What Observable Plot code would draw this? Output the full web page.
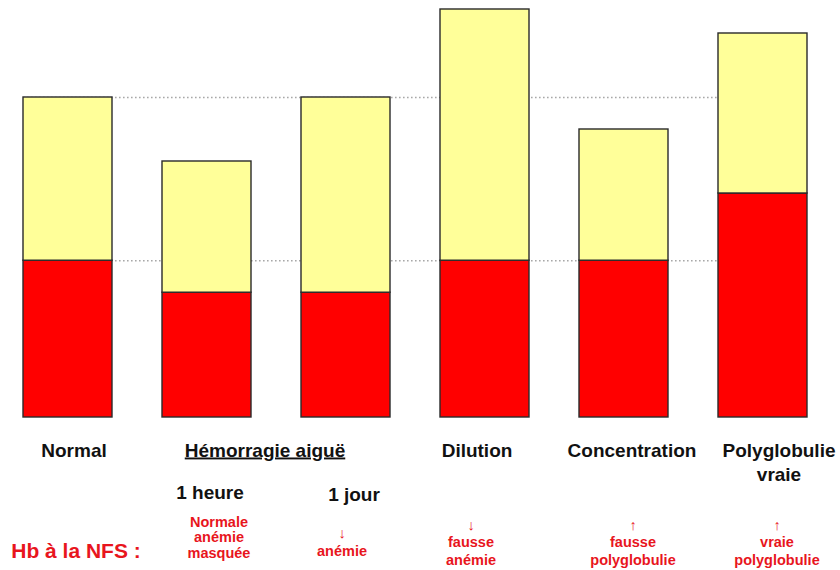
<!DOCTYPE html>
<html><head><meta charset="utf-8">
<script src="https://cdn.jsdelivr.net/npm/d3@7"></script>
<script src="https://cdn.jsdelivr.net/npm/@observablehq/plot@0.6"></script>
<style>body{margin:0;background:#fff;}</style>
</head><body><div id="chart"></div>
<script>
// Data
const categories = ["Normal", "1 heure", "1 jour", "Dilution", "Concentration", "Polyglobulie vraie"];
const globules = [49, 39, 39, 49, 49, 70];      // red cell volume
const plasma = [51, 41, 61, 78.5, 41, 50];       // plasma volume
const referenceLevels = [100, 49];
const groupLabels = ["Normal", "Hémorragie aiguë", "Dilution", "Concentration", "Polyglobulie\nvraie"];
const groupAt = ["Normal", "1 heure", "Dilution", "Concentration", "Polyglobulie vraie"];
const delayLabels = ["1 heure", "1 jour"];
const delayAt = ["1 heure", "1 jour"];
const hbTitle = "Hb à la NFS :";
const hbLabels = ["Normale\nanémie\nmasquée", "↓\nanémie", "↓\nfausse\nanémie", "↑\nfausse\npolyglobulie", "↑\nvraie\npolyglobulie"];
const hbAt = ["1 heure", "1 jour", "Dilution", "Concentration", "Polyglobulie vraie"];

const rows = [];
categories.forEach((c, i) => {
  rows.push({cat: c, part: "globules", v: globules[i]});
  rows.push({cat: c, part: "plasma", v: plasma[i]});
});

const font = "'Liberation Sans', Arial, sans-serif";
const red = "#e8151d";

// layout offsets (style only)
const groupDx = [6, 58, -8, 8, 16];
const groupDy = [39, 39, 39, 39, 63];
const delayDx = [3, 8], delayDy = [81, 83];
const hbDx = [12, -4, -14, 9, 14];
const hbDy = [140, 138, 147, 147, 147];
const hbLH = [1.05, 1.2, 1.2, 1.2, 1.2];

const textMarks = [];
groupLabels.forEach((t, i) => textMarks.push(Plot.text([t], {
  x: () => groupAt[i], text: d => d, frameAnchor: "bottom", lineAnchor: "bottom",
  dy: groupDy[i], dx: groupDx[i], fontSize: 19, fontWeight: "bold", fill: "#111", lineHeight: 1.26
})));
delayLabels.forEach((t, i) => textMarks.push(Plot.text([t], {
  x: () => delayAt[i], text: d => d, frameAnchor: "bottom", lineAnchor: "bottom",
  dy: delayDy[i], dx: delayDx[i], fontSize: 19, fontWeight: "bold", fill: "#111"
})));
textMarks.push(Plot.text([hbTitle], {
  x: () => "Normal", text: d => d, frameAnchor: "bottom", lineAnchor: "bottom",
  dy: 140, dx: 8, fontSize: 21, fontWeight: "bold", fill: red
}));
hbLabels.forEach((t, i) => textMarks.push(Plot.text([t], {
  x: () => hbAt[i], text: d => d, frameAnchor: "bottom", lineAnchor: "bottom",
  dy: hbDy[i], dx: hbDx[i], fontSize: 14.5, fontWeight: "bold", fill: red, lineHeight: hbLH[i]
})));

const plot = Plot.plot({
  width: 840,
  height: 570,
  marginLeft: 0,
  marginRight: 10,
  marginTop: 0,
  marginBottom: 153,
  style: {fontFamily: font, background: "#fff"},
  x: {domain: categories, paddingInner: 0.36, paddingOuter: 0.1655, axis: null},
  y: {domain: [0, 130.3125], axis: null},
  color: {domain: ["globules", "plasma"], range: ["#ff0000", "#ffff99"]},
  marks: [
    Plot.ruleY(referenceLevels, {stroke: "#a8a8a8", strokeWidth: 1.6, strokeDasharray: "1.6,2.4", insetLeft: 23, insetRight: 113}),
    Plot.barY(rows, Plot.stackY({x: "cat", y: "v", fill: "part", order: ["globules", "plasma"], stroke: "#2a2a2a", strokeWidth: 1.4})),
    ...textMarks
  ]
});

d3.select(plot).selectAll("text").filter(function () { return this.textContent === "Hémorragie aiguë"; })
  .style("text-decoration", "underline");

document.getElementById("chart").appendChild(plot);
</script>
</body></html>
